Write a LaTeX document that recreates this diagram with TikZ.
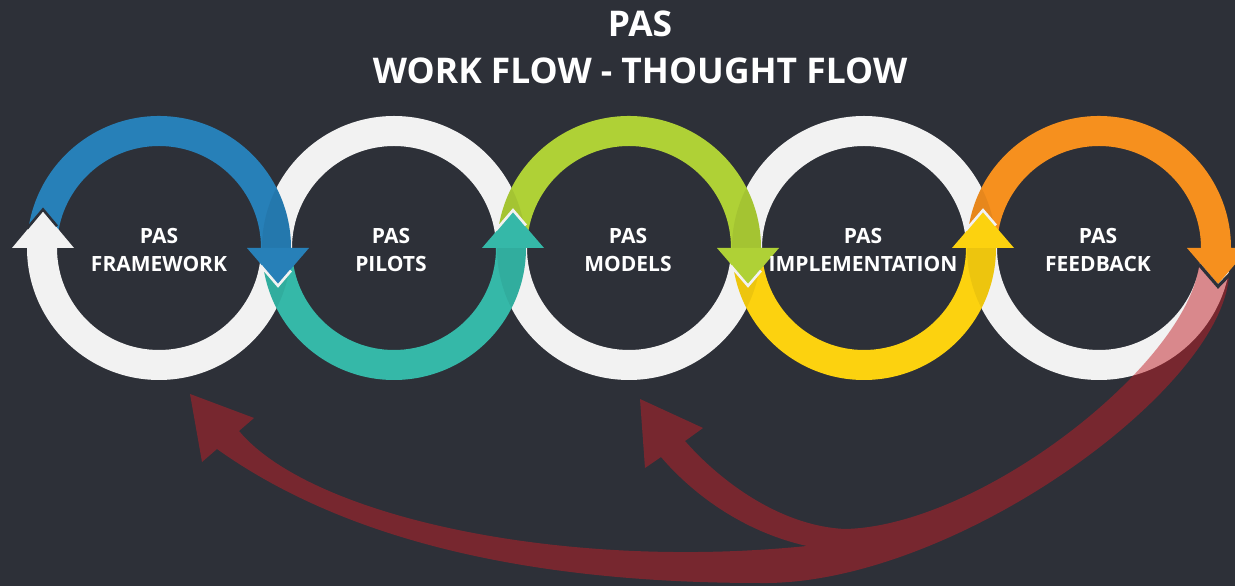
\documentclass[tikz,border=0pt]{standalone}
\usepackage{fontspec}
\setmainfont{Open Sans}
\usetikzlibrary{calc}
\definecolor{bg}{HTML}{2D3038}
\definecolor{ringw}{HTML}{F2F2F2}
\definecolor{cblue}{HTML}{2780B8}
\definecolor{cteal}{HTML}{35B8A8}
\definecolor{cgreen}{HTML}{AFD136}
\definecolor{cyellow}{HTML}{FCD20F}
\definecolor{corange}{HTML}{F6901E}
\definecolor{cred}{HTML}{C21F27}
\newcommand\sectpath[3]{($(#1)+(#2:132)$) arc[start angle=#2,end angle=#3,radius=132] -- ($(#1)+(#3:102)$) arc[start angle=#3,end angle=#2,radius=102] -- cycle}
\newcommand\downhead[2]{\fill[#2] (#1-31,338) -- (#1+31,338) -- (#1,302) -- cycle;}
\newcommand\uphead[2]{\fill[#2] (#1-31,338) -- (#1+31,338) -- (#1,374) -- cycle;}
\newcommand\downvee[3]{\draw[#2, line width=#3, line join=miter] (#1-17,320.0) -- (#1,300.2) -- (#1+13,315.4);}
\newcommand\upvee[3]{\draw[#2, line width=#3, line join=miter] (#1-17,356.0) -- (#1,375.8) -- (#1+13,360.6);}
\tikzset{
  lbl/.style={text=white, font=\bfseries\fontsize{21}{28}\selectfont, align=center, inner sep=0pt},
  ttl/.style={text=white, font=\bfseries\fontsize{35.4}{44}\selectfont, anchor=base, inner sep=0pt},
  shade/.style={black, opacity=0.06}
}
\begin{document}
\begin{tikzpicture}[x=1pt,y=1pt]
\useasboundingbox (0,0) rectangle (1235,586);
\fill[bg] (0,0) rectangle (1235,586);
\coordinate (c1) at (159,338);
\coordinate (c2) at (394,338);
\coordinate (c3) at (629,338);
\coordinate (c4) at (864,338);
\coordinate (c5) at (1099,338);
% white halves
\fill[ringw] \sectpath{c1}{180}{360};
\fill[ringw] \sectpath{c2}{0}{180};
\fill[ringw] \sectpath{c3}{180}{360};
\fill[ringw] \sectpath{c4}{0}{180};
\fill[ringw] \sectpath{c5}{180}{360};
% coloured halves
\fill[corange] \sectpath{c5}{175}{0};
\fill[cyellow] \sectpath{c4}{185}{360};
\fill[cgreen] \sectpath{c3}{175}{0};
\fill[cteal] \sectpath{c2}{185}{360};
\fill[cblue] \sectpath{c1}{175}{0};
% slight darkening where colour crosses a neighbour's white band
\begin{scope}
  \clip \sectpath{c2}{0}{180};
  \fill[shade] \sectpath{c1}{175}{0};
  \fill[shade] \sectpath{c3}{175}{0};
\end{scope}
\begin{scope}
  \clip \sectpath{c1}{180}{360};
  \fill[shade] \sectpath{c2}{185}{360};
\end{scope}
\begin{scope}
  \clip \sectpath{c3}{180}{360};
  \fill[shade] \sectpath{c2}{185}{360};
  \fill[shade] \sectpath{c4}{185}{360};
\end{scope}
\begin{scope}
  \clip \sectpath{c4}{0}{180};
  \fill[shade] \sectpath{c3}{175}{0};
  \fill[shade] \sectpath{c5}{175}{0};
\end{scope}
\begin{scope}
  \clip \sectpath{c5}{180}{360};
  \fill[shade] \sectpath{c4}{185}{360};
\end{scope}
% feedback arrows (one outline, so the overlap is not doubled)
\fill[cred, opacity=0.5]
  (1199,320) -- (1217,298) -- (1229,311)
  .. controls (1222,195) and (950,0) .. (760,3)
  .. controls (560,3) and (360,35) .. (217,137)
  -- (202,124) -- (190,192) -- (254,168) -- (239,155)
  .. controls (310,70) and (560,15) .. (807,40)
  .. controls (740,55) and (690,95) .. (661,129)
  -- (645,118) -- (640,187) -- (703,158) -- (685,145)
  .. controls (720,105) and (780,60) .. (845,57)
  .. controls (980,60) and (1185,220) .. (1199,320)
  -- cycle;
% arrowheads
\fill[ringw] (12,338) -- (74,338) -- (43,375) -- cycle;
\draw[bg, line width=2.6pt, line join=miter] (27,357.4) -- (43,376.5) -- (57,359.8);
\downhead{278}{cblue}
\downvee{278}{ringw}{2.6pt}
\uphead{513}{cteal}
\upvee{513}{ringw}{2.6pt}
\downhead{748}{cgreen}
\downvee{748}{ringw}{2.6pt}
\uphead{983}{cyellow}
\upvee{983}{ringw}{2.6pt}
\downhead{1218}{corange}
\draw[bg, line width=3.2pt, line join=miter] (1199,321.5) -- (1218,299.5) -- (1231,313);
% labels
\node[lbl] (l1) at (159,336) {PAS\\FRAMEWORK};
\node[lbl] (l2) at (391,336) {PAS\\PILOTS};
\node[lbl] (l3) at (628,336) {PAS\\MODELS};
\node[lbl] (l4) at (863,336) {PAS\\IMPLEMENTATION};
\node[lbl] (l5) at (1098,336) {PAS\\FEEDBACK};
% title
\node[ttl] (t1) at (640,549) {PAS};
\node[ttl] (t2) at (640,502) {WORK FLOW - THOUGHT FLOW};
\end{tikzpicture}
\end{document}
